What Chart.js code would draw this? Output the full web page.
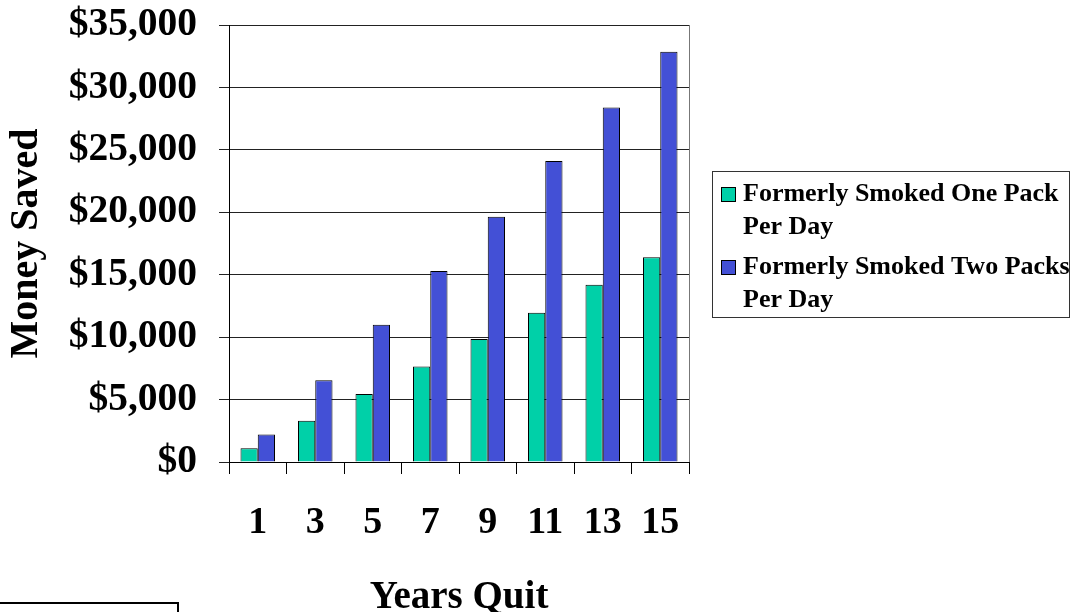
<!DOCTYPE html>
<html lang="en">
<head>
    <meta charset="UTF-8">
    <title>Money Saved</title>
    <script src="https://cdn.jsdelivr.net/npm/chart.js"></script>
    <style>
        body { margin: 0; background: #fff; }
        #wrap { width: 1073px; height: 612px; }
    </style>
</head>
<body>
    <div id="wrap">
        <canvas id="myChart" width="1073" height="612"></canvas>
    </div>

    <script>
        // data
        const years = ['1', '3', '5', '7', '9', '11', '13', '15'];
        const onePack = [1100, 3300, 5450, 7650, 9850, 11950, 14200, 16400];
        const twoPacks = [2200, 6550, 11000, 15300, 19650, 24100, 28400, 32850];
        const seriesNames = ['Formerly Smoked One Pack Per Day', 'Formerly Smoked Two Packs Per Day'];
        const seriesColors = ['#00D0A8', '#4350D6'];
        const yMax = 35000;
        const yStep = 5000;

        const serif = "'Liberation Serif', 'Times New Roman', serif";

        function wrapText(ctx, text, maxWidth) {
            let words = text.split(' ');
            let lines = [];
            let line = '';
            words.forEach(function (w) {
                let test = line ? line + ' ' + w : w;
                if (ctx.measureText(test).width > maxWidth && line) {
                    lines.push(line);
                    line = w;
                } else {
                    line = test;
                }
            });
            if (line) lines.push(line);
            return lines;
        }

        // right border of the plot, legend box and the stray box at the bottom left
        const extras = {
            id: 'extras',
            afterDraw(chart) {
                let ctx = chart.ctx;
                let area = chart.chartArea;
                ctx.save();

                ctx.strokeStyle = '#777';
                ctx.lineWidth = 1;
                ctx.beginPath();
                ctx.moveTo(Math.round(area.right) + 0.5, area.top);
                ctx.lineTo(Math.round(area.right) + 0.5, area.bottom);
                ctx.stroke();

                // legend
                ctx.strokeStyle = '#333';
                ctx.strokeRect(712.5, 171.5, 357, 146);
                ctx.font = 'bold 26px ' + serif;
                ctx.fillStyle = '#000';
                ctx.textBaseline = 'alphabetic';
                ctx.textAlign = 'left';
                let y = 201;
                chart.data.datasets.forEach(function (ds) {
                    ctx.fillStyle = ds.backgroundColor;
                    ctx.fillRect(721, y - 14, 15, 15);
                    ctx.strokeStyle = '#000';
                    ctx.strokeRect(721.5, y - 13.5, 14, 14);
                    ctx.fillStyle = '#000';
                    let lines = wrapText(ctx, ds.label, 340);
                    lines.forEach(function (l, i) {
                        ctx.fillText(l, 743, y + i * 33);
                    });
                    y += 73;
                });

                // partial box at the bottom left
                ctx.strokeStyle = '#000';
                ctx.lineWidth = 2;
                ctx.strokeRect(-5, 603, 183, 30);
                ctx.restore();
            }
        };

        let ctx = document.getElementById('myChart').getContext('2d');
        let myChart = new Chart(ctx, {
            type: 'bar',
            data: {
                labels: years,
                datasets: [
                    {
                        label: seriesNames[0],
                        data: onePack,
                        backgroundColor: seriesColors[0],
                        borderColor: '#000',
                        borderWidth: 1
                    },
                    {
                        label: seriesNames[1],
                        data: twoPacks,
                        backgroundColor: seriesColors[1],
                        borderColor: '#000',
                        borderWidth: 1
                    }
                ]
            },
            options: {
                responsive: false,
                animation: false,
                layout: {
                    padding: { top: 25, right: 384, bottom: 0, left: 0 }
                },
                datasets: {
                    bar: { categoryPercentage: 0.6, barPercentage: 1.0 }
                },
                plugins: {
                    legend: { display: false },
                    tooltip: { enabled: false }
                },
                scales: {
                    x: {
                        afterFit: function (scale) {
                            scale.height = 150;
                            scale.paddingLeft = 0;
                            scale.paddingRight = 0;
                        },
                        grid: {
                            drawOnChartArea: false,
                            offset: true,
                            tickLength: 12,
                            color: '#000'
                        },
                        border: { color: '#000' },
                        ticks: {
                            color: '#000',
                            padding: 26,
                            font: { family: serif, size: 38, weight: 'bold' }
                        },
                        title: {
                            display: true,
                            text: 'Years Quit',
                            color: '#000',
                            padding: { top: 0, bottom: -2 },
                            font: { family: serif, size: 39, weight: 'bold', lineHeight: 0.8 }
                        }
                    },
                    y: {
                        min: 0,
                        max: yMax,
                        afterFit: function (scale) {
                            scale.width = 229;
                            scale.paddingTop = 0;
                            scale.paddingBottom = 0;
                        },
                        grid: {
                            color: '#222',
                            tickLength: 10
                        },
                        border: { color: '#000' },
                        ticks: {
                            stepSize: yStep,
                            color: '#000',
                            padding: 22,
                            font: { family: serif, size: 39.5, weight: 'bold' },
                            callback: function (v) { return '$' + v.toLocaleString('en-US'); }
                        },
                        title: {
                            display: true,
                            text: 'Money Saved',
                            color: '#000',
                            padding: { top: 11, bottom: 0 },
                            font: { family: serif, size: 40, weight: 'bold', lineHeight: 0.8 }
                        }
                    }
                }
            },
            plugins: [extras]
        });
    </script>
</body>
</html>
